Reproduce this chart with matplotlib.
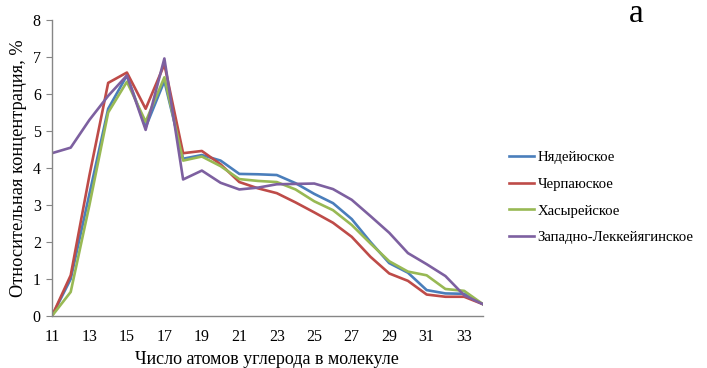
import matplotlib
matplotlib.use("Agg")
import matplotlib.pyplot as plt

# carbon number
carbons = list(range(11, 35))

nyadeyuskoe = [0.0, 1.0, 3.3, 5.6, 6.5, 5.1, 6.35, 4.25, 4.35, 4.2, 3.84, 3.83,
               3.81, 3.59, 3.3, 3.05, 2.62, 2.0, 1.43, 1.17, 0.7, 0.61, 0.6, 0.32]
cherpayuskoe = [0.0, 1.1, 3.8, 6.3, 6.58, 5.6, 6.8, 4.4, 4.46, 4.1, 3.62, 3.45,
                3.32, 3.07, 2.8, 2.52, 2.14, 1.6, 1.15, 0.95, 0.58, 0.52, 0.52, 0.32]
khasyreyskoe = [0.0, 0.65, 3.0, 5.5, 6.33, 5.25, 6.45, 4.2, 4.31, 4.05, 3.7, 3.65,
                3.62, 3.42, 3.1, 2.86, 2.46, 1.96, 1.48, 1.2, 1.1, 0.73, 0.68, 0.32]
zapadno = [4.4, 4.55, 5.3, 5.95, 6.5, 5.03, 6.96, 3.69, 3.93, 3.6, 3.42, 3.47,
           3.56, 3.57, 3.58, 3.43, 3.14, 2.7, 2.25, 1.7, 1.4, 1.08, 0.56, 0.32]

names = ["Нядейюское", "Черпаюское", "Хасырейское", "Западно-Леккейягинское"]
colors = ["#4A7EBB", "#BE4B48", "#98B954", "#7D60A0"]

plt.rcParams["font.family"] = ["Liberation Serif", "DejaVu Serif"]

fig = plt.figure(figsize=(7.07, 3.68), dpi=100)
ax = fig.add_axes([0.0735, 0.1413, 0.6095, 0.8044])

for vals, name, c in zip([nyadeyuskoe, cherpayuskoe, khasyreyskoe, zapadno], names, colors):
    ax.plot(carbons, vals, color=c, lw=1.9, label=name)

ax.set_xlim(11, 34)
ax.set_ylim(0, 8)
ax.set_xticks(range(11, 34, 2))
ax.set_yticks(range(0, 9))
for s in ("top", "right"):
    ax.spines[s].set_visible(False)
for s in ("left", "bottom"):
    ax.spines[s].set_color("#868686")
    ax.spines[s].set_linewidth(1.0)
ax.tick_params(axis="x", length=0, pad=9, labelsize=11.5)
ax.tick_params(axis="y", length=4, color="#868686", pad=4, labelsize=11.5)

ax.set_xlabel("Число атомов углерода в молекуле", fontsize=13, labelpad=5)
ax.set_ylabel("Относительная концентрация, %", fontsize=13.2, labelpad=4)

ax.legend(loc="upper left", bbox_to_anchor=(1.06, 0.557), frameon=False,
          borderaxespad=0, borderpad=0, fontsize=10.6, handlelength=1.7,
          handletextpad=0.25, labelspacing=0.9)

fig.text(0.9, 0.962, "а", fontsize=24, ha="center", va="center")

fig.savefig("out.png", dpi=100)
